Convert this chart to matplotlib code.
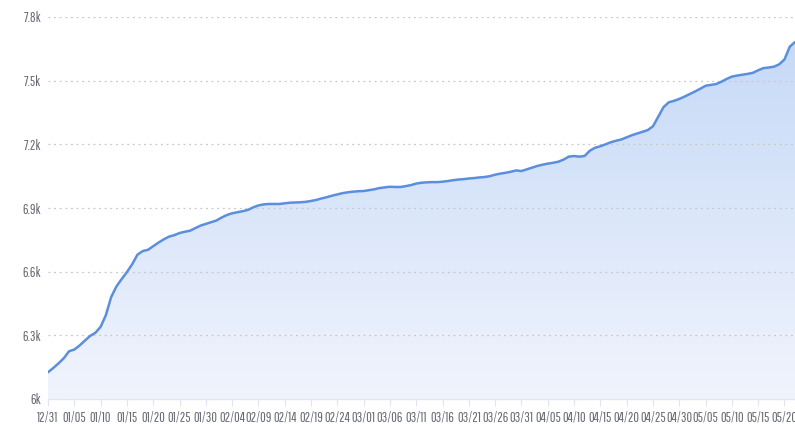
import numpy as np
import pandas as pd
import matplotlib
matplotlib.use("Agg")
import matplotlib.pyplot as plt
from matplotlib.colors import LinearSegmentedColormap
from matplotlib.patches import Polygon

# ---- data ----
start_date = "2018-12-31"
values = [
    6126, 6146, 6168, 6192, 6225, 6233, 6252, 6275, 6297, 6312,
    6340, 6395, 6480, 6530, 6565, 6598, 6635, 6680, 6697, 6703,
    6720, 6737, 6752, 6765, 6772, 6782, 6788, 6793, 6805, 6817,
    6825, 6833, 6841, 6855, 6867, 6875, 6880, 6885, 6891, 6903,
    6912, 6917, 6919, 6919, 6919, 6922, 6925, 6926, 6927, 6929,
    6933, 6938, 6945, 6951, 6958, 6964, 6970, 6974, 6977, 6979,
    6980, 6984, 6988, 6994, 6997, 7000, 6999, 6999, 7003, 7008,
    7015, 7019, 7021, 7022, 7022, 7024, 7027, 7031, 7034, 7036,
    7039, 7041, 7044, 7046, 7050, 7057, 7062, 7066, 7071, 7077,
    7074, 7082, 7090, 7098, 7104, 7109, 7113, 7118, 7128, 7142,
    7145, 7142, 7145, 7170, 7184, 7191, 7200, 7210, 7217, 7223,
    7233, 7243, 7251, 7259, 7267, 7285, 7330, 7375, 7398, 7405,
    7414, 7425, 7437, 7449, 7462, 7476, 7480, 7484, 7495, 7508,
    7519, 7524, 7528, 7532, 7537, 7549, 7559, 7562, 7566, 7577,
    7600, 7660, 7682,
]
dates = pd.date_range(start_date, periods=len(values), freq="D")
date_labels = [d.strftime("%m/%d") for d in dates]
tick_step = 5
y_ticks = [6000, 6300, 6600, 6900, 7200, 7500, 7800]
y_tick_labels = ["6k", "6.3k", "6.6k", "6.9k", "7.2k", "7.5k", "7.8k"]

# ---- style ----
plt.rcParams["font.family"] = ["Pathway Gothic One", "DejaVu Sans"]
line_color = "#5b8fde"
label_color = "#666a73"

W, H = 795, 424
fig = plt.figure(figsize=(W / 100, H / 100), dpi=100)
left = 48 / W
bottom = (H - 399) / H
top = (H - 17) / H
ax = fig.add_axes([left, bottom, 1.0 - left, top - bottom])

x = np.arange(len(values))
y = np.array(values, dtype=float)

ax.set_xlim(0, len(values) - 1)
ax.set_ylim(y_ticks[0], y_ticks[-1])

# gradient area fill
cmap = LinearSegmentedColormap.from_list("g", ["#f1f4fd", "#c3d8f6"])
grad = np.linspace(0, 1, 256).reshape(-1, 1)
im = ax.imshow(grad, aspect="auto", cmap=cmap, origin="lower",
               extent=[0, len(values) - 1, y_ticks[0], y_ticks[-1]], zorder=1)
verts = np.vstack([np.column_stack([x, y]),
                   [[x[-1], y_ticks[0]], [x[0], y_ticks[0]]]])
poly = Polygon(verts, closed=True, facecolor="none", edgecolor="none")
ax.add_patch(poly)
im.set_clip_path(poly)

ax.plot(x, y, color=line_color, lw=1.8, zorder=3, solid_capstyle="round",
        solid_joinstyle="round")

# grid
ax.set_yticks(y_ticks)
ax.set_yticklabels(y_tick_labels)
for yt in y_ticks[1:]:
    ax.axhline(yt, color="#c8c8c8", lw=0.9, ls=(0, (1.5, 3)), zorder=2)

# x ticks
xt = list(range(0, len(values), tick_step))
ax.set_xticks(xt)
ax.set_xticklabels([date_labels[i] for i in xt])

for s in ["top", "right", "left"]:
    ax.spines[s].set_visible(False)
ax.spines["bottom"].set_color("#e0e6f1")
ax.spines["bottom"].set_linewidth(1)
ax.spines["bottom"].set_zorder(4)
ax.tick_params(axis="x", length=5, color="#e0e6f1", pad=3,
               labelsize=10, labelcolor=label_color)
ax.tick_params(axis="y", length=0, pad=5, labelsize=10, labelcolor=label_color)
ax.set_facecolor("white")

fig.savefig("out.png", dpi=100)
